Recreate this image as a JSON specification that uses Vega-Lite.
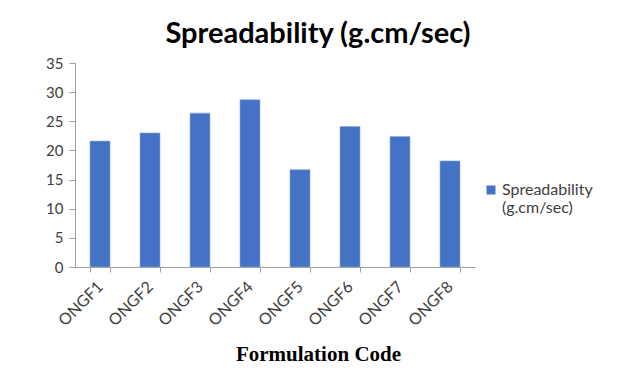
{
  "$schema": "https://vega.github.io/schema/vega-lite/v6.json",
  "autosize": {"type": "none"},
  "width": 400,
  "height": 204,
  "padding": {"left": 75, "top": 63, "right": 147, "bottom": 108},
  "background": "white",
  "title": {
    "text": "Spreadability (g.cm/sec)",
    "font": "Lato",
    "fontSize": 29,
    "fontWeight": "bold",
    "color": "#000000",
    "anchor": "middle",
    "dx": 43,
    "offset": 7
  },
  "data": {
    "values": [
      {"code": "ONGF1", "value": 21.6, "series": "Spreadability (g.cm/sec)"},
      {"code": "ONGF2", "value": 23.0, "series": "Spreadability (g.cm/sec)"},
      {"code": "ONGF3", "value": 26.4, "series": "Spreadability (g.cm/sec)"},
      {"code": "ONGF4", "value": 28.7, "series": "Spreadability (g.cm/sec)"},
      {"code": "ONGF5", "value": 16.7, "series": "Spreadability (g.cm/sec)"},
      {"code": "ONGF6", "value": 24.1, "series": "Spreadability (g.cm/sec)"},
      {"code": "ONGF7", "value": 22.4, "series": "Spreadability (g.cm/sec)"},
      {"code": "ONGF8", "value": 18.2, "series": "Spreadability (g.cm/sec)"}
    ]
  },
  "mark": {"type": "bar", "stroke": "#8eaadb", "strokeWidth": 0.6},
  "encoding": {
    "x": {
      "field": "code",
      "type": "nominal",
      "sort": null,
      "scale": {"paddingInner": 0.6, "paddingOuter": 0.3},
      "axis": {
        "title": "Formulation Code",
        "titleFont": "Liberation Serif",
        "titleFontSize": 21,
        "titleFontWeight": "bold",
        "titleColor": "#000000",
        "titleX": 243,
        "titleY": 93,
        "titleBaseline": "alphabetic",
        "titleAlign": "center",
        "labelAngle": -45,
        "labelAlign": "right",
        "labelBaseline": "middle",
        "labelFont": "Lato",
        "labelFontSize": 16,
        "labelColor": "#404040",
        "labelPadding": 12,
        "tickBand": "extent",
        "tickSize": 5,
        "tickColor": "#a0a0a0",
        "domainColor": "#a0a0a0",
        "grid": false
      }
    },
    "y": {
      "field": "value",
      "type": "quantitative",
      "scale": {"domain": [0, 35], "nice": false},
      "axis": {
        "title": null,
        "values": [0, 5, 10, 15, 20, 25, 30, 35],
        "labelFont": "Lato",
        "labelFontSize": 15,
        "labelColor": "#404040",
        "labelPadding": 6,
        "tickSize": 6,
        "tickColor": "#a0a0a0",
        "domainColor": "#a0a0a0",
        "grid": false
      }
    },
    "color": {
      "field": "series",
      "type": "nominal",
      "scale": {"range": ["#4472c4"]},
      "legend": {
        "orient": "none",
        "legendX": 408,
        "legendY": 119,
        "title": null,
        "symbolType": "square",
        "symbolSize": 81,
        "symbolStrokeWidth": 0,
        "labelFont": "Lato",
        "labelFontSize": 16,
        "labelColor": "#404040",
        "labelOffset": 3,
        "labelLimit": 200,
        "labelExpr": "['Spreadability', '(g.cm/sec)']",
        "encode": {"labels": {"update": {"lineHeight": {"value": 19}}}}
      }
    }
  },
  "config": {
    "view": {"stroke": null}
  }
}
